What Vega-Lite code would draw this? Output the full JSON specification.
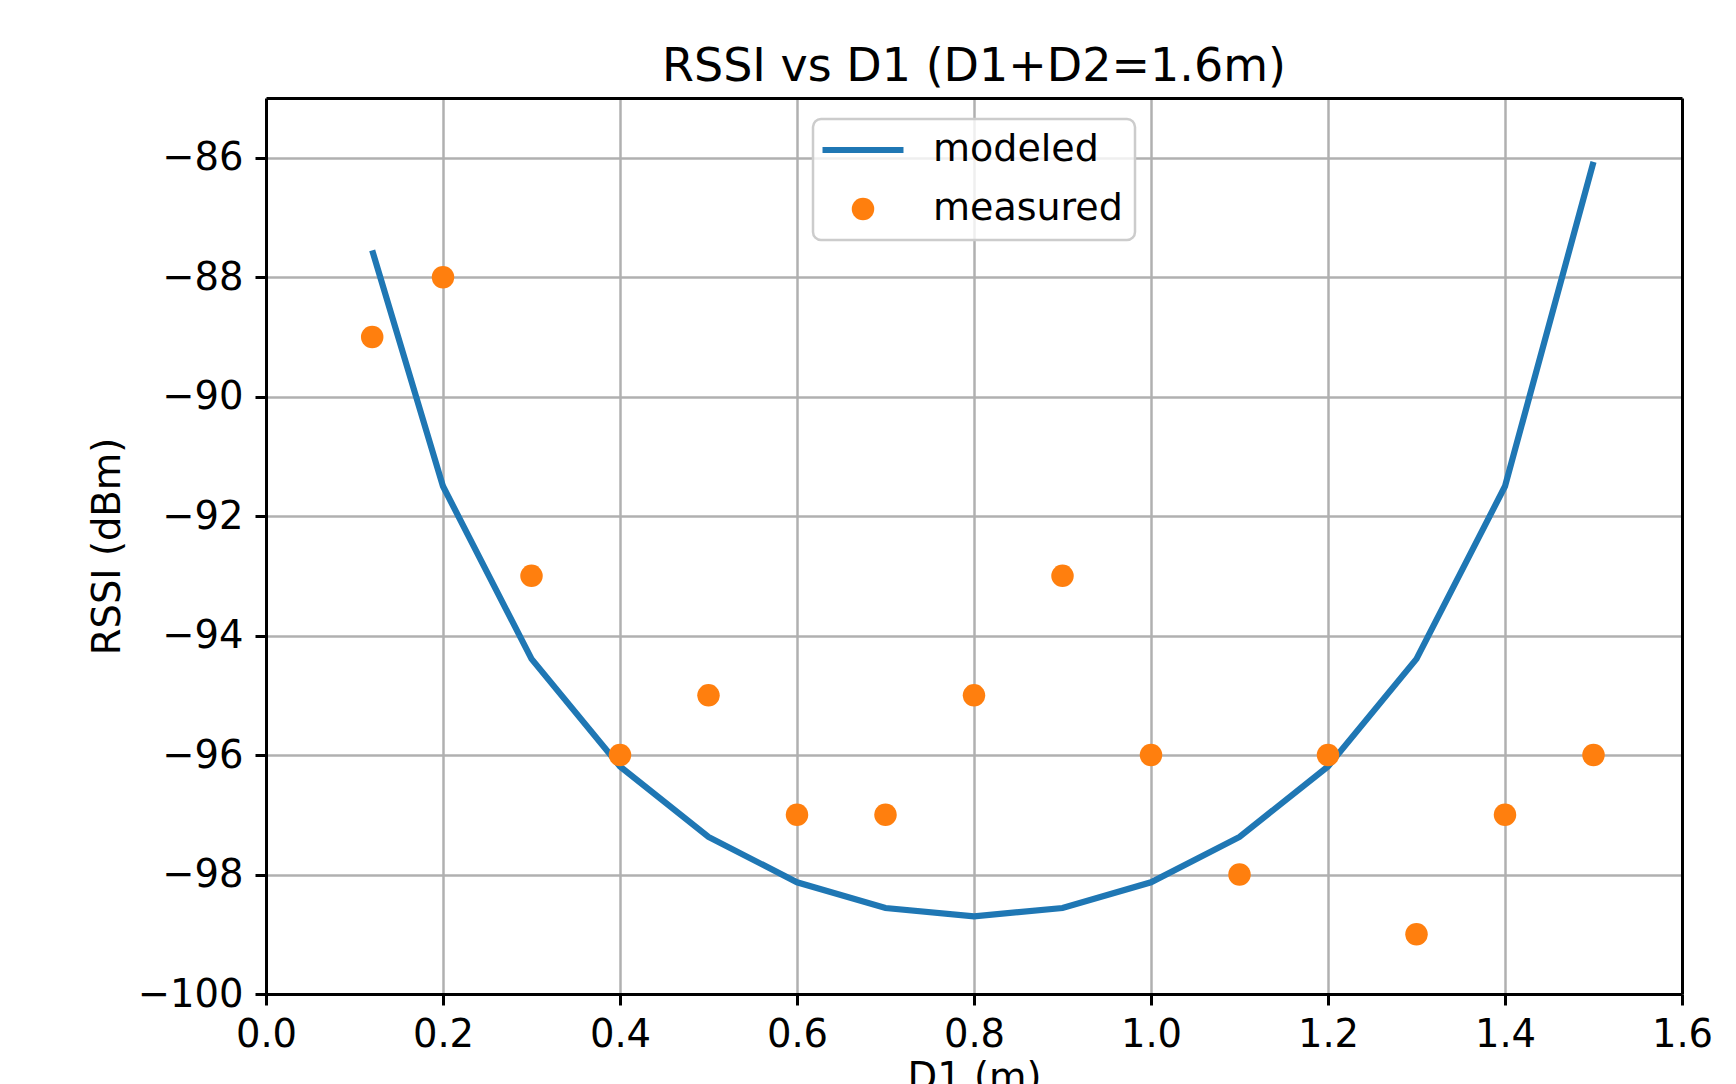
{
  "$schema": "https://vega.github.io/schema/vega-lite/v6.json",
  "width": 1416,
  "height": 896,
  "autosize": {"type": "none"},
  "padding": {"left": 266, "top": 98, "right": 54, "bottom": 90},
  "background": "white",
  "title": {"text": "RSSI vs D1 (D1+D2=1.6m)", "fontSize": 46, "font": "DejaVu Sans", "fontWeight": "normal", "baseline": "alphabetic", "offset": 18, "dy": 47, "color": "black", "frame": "group"},
  "data": {"values": [
    {"d1": 0.12, "rssi": -87.55, "series": "modeled"},
    {"d1": 0.2, "rssi": -91.5, "series": "modeled"},
    {"d1": 0.3, "rssi": -94.39, "series": "modeled"},
    {"d1": 0.4, "rssi": -96.19, "series": "modeled"},
    {"d1": 0.5, "rssi": -97.37, "series": "modeled"},
    {"d1": 0.6, "rssi": -98.13, "series": "modeled"},
    {"d1": 0.7, "rssi": -98.56, "series": "modeled"},
    {"d1": 0.8, "rssi": -98.7, "series": "modeled"},
    {"d1": 0.9, "rssi": -98.56, "series": "modeled"},
    {"d1": 1.0, "rssi": -98.13, "series": "modeled"},
    {"d1": 1.1, "rssi": -97.37, "series": "modeled"},
    {"d1": 1.2, "rssi": -96.19, "series": "modeled"},
    {"d1": 1.3, "rssi": -94.39, "series": "modeled"},
    {"d1": 1.4, "rssi": -91.5, "series": "modeled"},
    {"d1": 1.5, "rssi": -86.07, "series": "modeled"},
    {"d1": 0.12, "rssi": -89, "series": "measured"},
    {"d1": 0.2, "rssi": -88, "series": "measured"},
    {"d1": 0.3, "rssi": -93, "series": "measured"},
    {"d1": 0.4, "rssi": -96, "series": "measured"},
    {"d1": 0.5, "rssi": -95, "series": "measured"},
    {"d1": 0.6, "rssi": -97, "series": "measured"},
    {"d1": 0.7, "rssi": -97, "series": "measured"},
    {"d1": 0.8, "rssi": -95, "series": "measured"},
    {"d1": 0.9, "rssi": -93, "series": "measured"},
    {"d1": 1.0, "rssi": -96, "series": "measured"},
    {"d1": 1.1, "rssi": -98, "series": "measured"},
    {"d1": 1.2, "rssi": -96, "series": "measured"},
    {"d1": 1.3, "rssi": -99, "series": "measured"},
    {"d1": 1.4, "rssi": -97, "series": "measured"},
    {"d1": 1.5, "rssi": -96, "series": "measured"}
  ]},
  "layer": [
    {
      "transform": [{"filter": "datum.series === 'modeled'"}],
      "mark": {"type": "line", "strokeWidth": 6.2, "color": "#1f77b4"},
      "encoding": {
        "x": {"field": "d1", "type": "quantitative",
          "scale": {"domain": [0, 1.6], "nice": false, "zero": false},
          "axis": {"orient": "bottom", "values": [0, 0.2, 0.4, 0.6, 0.8, 1, 1.2, 1.4, 1.6], "format": ".1f",
            "grid": false, "domain": true, "domainColor": "black", "domainWidth": 3,
            "ticks": true, "tickSize": 11, "tickWidth": 3, "tickColor": "black",
            "labelFontSize": 38.5, "labelFont": "DejaVu Sans", "labelColor": "black",
            "labelBaseline": "alphabetic", "labelPadding": 41, "labelFlush": false, "labelOverlap": false,
            "title": "D1 (m)", "titleFontSize": 38.5, "titleFont": "DejaVu Sans", "titleFontWeight": "normal", "titleColor": "black", "titlePadding": 6}},
        "y": {"field": "rssi", "type": "quantitative",
          "scale": {"domain": [-100, -85], "nice": false, "zero": false},
          "axis": {"orient": "left", "values": [-100, -98, -96, -94, -92, -90, -88, -86],
            "labelExpr": "replace(format(datum.value, 'd'), '-', '−')",
            "grid": false, "domain": true, "domainColor": "black", "domainWidth": 3,
            "ticks": true, "tickSize": 11, "tickWidth": 3, "tickColor": "black",
            "labelFontSize": 38.5, "labelFont": "DejaVu Sans", "labelColor": "black",
            "labelPadding": 12, "labelFlush": false, "labelOverlap": false,
            "title": "RSSI (dBm)", "titleFontSize": 38.5, "titleFont": "DejaVu Sans", "titleFontWeight": "normal", "titleColor": "black", "titlePadding": 10}}
      }
    },
    {
      "transform": [{"filter": "datum.series === 'measured'"}],
      "mark": {"type": "point", "filled": true, "opacity": 1, "size": 506},
      "encoding": {
        "x": {"field": "d1", "type": "quantitative",
          "scale": {"domain": [0, 1.6], "nice": false, "zero": false},
          "axis": {"orient": "top", "values": [0.2, 0.4, 0.6, 0.8, 1, 1.2, 1.4], "labels": false, "ticks": false,
            "grid": true, "gridColor": "#b0b0b0", "gridWidth": 2.5, "minExtent": 0, "maxExtent": 0, "labelPadding": 0, "titlePadding": 0,
            "domain": true, "domainColor": "black", "domainWidth": 3, "title": null}},
        "y": {"field": "rssi", "type": "quantitative",
          "scale": {"domain": [-100, -85], "nice": false, "zero": false},
          "axis": {"orient": "right", "values": [-98, -96, -94, -92, -90, -88, -86], "labels": false, "ticks": false,
            "grid": true, "gridColor": "#b0b0b0", "gridWidth": 2.5, "minExtent": 0, "maxExtent": 0,
            "domain": true, "domainColor": "black", "domainWidth": 3, "title": null}},
        "color": {"field": "series", "type": "nominal",
          "scale": {"domain": ["modeled", "measured"], "range": ["#1f77b4", "#ff7f0e"]},
          "legend": {"orient": "none", "legendX": 547, "legendY": 21, "title": null,
            "labelFontSize": 38, "labelFont": "DejaVu Sans", "labelColor": "black", "labelBaseline": "middle",
            "symbolSize": 506, "symbolOffset": 19, "labelOffset": 51, "rowPadding": 21, "padding": 12,
            "fillColor": "rgba(255,255,255,0.8)", "strokeColor": "#cccccc", "cornerRadius": 8, "labelLimit": 400, "symbolStrokeWidth": 0}},
        "shape": {"field": "series", "type": "nominal",
          "scale": {"domain": ["modeled", "measured"], "range": ["M-3.6,-0.27H3.6V0.27H-3.6Z", "circle"]},
          "legend": {"orient": "none", "legendX": 547, "legendY": 21, "title": null,
            "labelFontSize": 38, "labelFont": "DejaVu Sans", "labelColor": "black", "labelBaseline": "middle",
            "symbolSize": 506, "symbolOffset": 19, "labelOffset": 51, "rowPadding": 21, "padding": 12,
            "fillColor": "rgba(255,255,255,0.8)", "strokeColor": "#cccccc", "cornerRadius": 8, "labelLimit": 400, "symbolStrokeWidth": 0}}
      }
    }
  ],
  "config": {
    "font": "DejaVu Sans",
    "view": {"stroke": null},
    "legend": {"strokeWidth": 2.5}
  }
}
